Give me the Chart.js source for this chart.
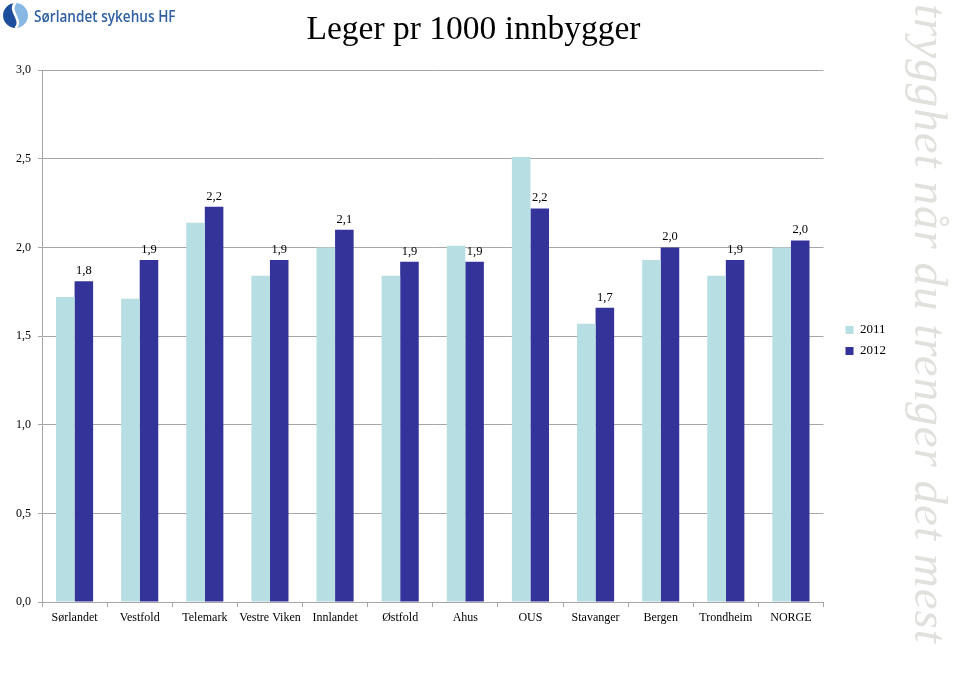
<!DOCTYPE html>
<html>
<head>
<meta charset="utf-8">
<script src="https://cdn.jsdelivr.net/npm/chart.js@4.4.1/dist/chart.umd.min.js"></script>
<style>
  html, body { margin: 0; padding: 0; background: #fff; }
  #wrap { position: relative; width: 960px; height: 681px; overflow: hidden; }
  #logo { position: absolute; left: 2px; top: 2px; display: flex; align-items: center; }
  #logo span {
    font-family: "Open Sans", sans-serif; font-size: 17px; font-weight: 600; color: #2f5fa3;
    margin-left: 5px; display: inline-block; transform: scaleX(0.8); transform-origin: left center;
    white-space: nowrap;
  }
  #slogan {
    position: absolute; left: 960px; top: 4px; transform: rotate(90deg); transform-origin: 0 0;
    font-family: "Liberation Serif", serif; font-style: italic; font-size: 47px; line-height: 58px;
    color: #e0e0dc; white-space: nowrap; letter-spacing: 1px;
  }
</style>
</head>
<body>
<div id="wrap">
  <canvas id="chart"></canvas>
  <div id="logo">
    <svg width="27" height="27" viewBox="0 0 26 26">
      <path d="M13,1 A12,12 0 0 0 13,25 C21,18 5,8 13,1 Z" fill="#1d4f9c"/>
      <path d="M13,1 A12,12 0 0 1 13,25 C21,18 5,8 13,1 Z" fill="#86b8e3"/>
      <path d="M13,1 C5,8 21,18 13,25" fill="none" stroke="#fff" stroke-width="2.5"/>
    </svg>
    <span>Sørlandet sykehus HF</span>
  </div>
  <div id="slogan">trygghet når du trenger det mest</div>
</div>
<script>
Chart.defaults.font.family = '"Liberation Serif", "Times New Roman", serif';
Chart.defaults.color = '#000';

const categories = ['Sørlandet', 'Vestfold', 'Telemark', 'Vestre Viken', 'Innlandet', 'Østfold',
  'Ahus', 'OUS', 'Stavanger', 'Bergen', 'Trondheim', 'NORGE'];
const values2011 = [1.72, 1.71, 2.14, 1.84, 2.00, 1.84, 2.01, 2.51, 1.57, 1.93, 1.84, 2.00];
const values2012 = [1.81, 1.93, 2.23, 1.93, 2.10, 1.92, 1.92, 2.22, 1.66, 2.00, 1.93, 2.04];
const yTicks = [0, 0.5, 1.0, 1.5, 2.0, 2.5, 3.0];

const fmt = v => v.toFixed(1).replace('.', ',');
const GRID = '#a6a6a6';

// value labels above the 2012 bars
const barLabels = {
  id: 'barLabels',
  afterDatasetsDraw(chart) {
    const { ctx } = chart;
    const meta = chart.getDatasetMeta(1);
    ctx.save();
    ctx.font = '12.5px "Liberation Serif", serif';
    ctx.fillStyle = '#000';
    ctx.textAlign = 'center';
    ctx.textBaseline = 'alphabetic';
    meta.data.forEach((bar, i) => {
      ctx.fillText(fmt(values2012[i]), bar.x, bar.y - 7);
    });
    ctx.restore();
  },
};

new Chart(document.getElementById('chart'), {
  type: 'bar',
  data: {
    labels: categories,
    datasets: [
      { label: '2011', data: values2011, backgroundColor: '#b7dfe3' },
      { label: '2012', data: values2012, backgroundColor: '#333399' },
    ],
  },
  options: {
    responsive: true,
    maintainAspectRatio: false,
    animation: false,
    datasets: { bar: { barPercentage: 1.0, categoryPercentage: 0.57 } },
    layout: { padding: { left: 0, right: 13, top: 0, bottom: 0 } },
    plugins: {
      title: {
        display: true,
        text: 'Leger pr 1000 innbygger',
        color: '#000',
        font: { size: 33.5, weight: 'normal' },
        padding: { top: 10, bottom: 20 },
      },
      legend: {
        position: 'right',
        labels: {
          boxWidth: 8,
          boxHeight: 8,
          padding: 8,
          color: '#000',
          font: { size: 13, lineHeight: 1.15 },
        },
      },
      tooltip: { enabled: false },
    },
    scales: {
      x: {
        grid: { display: true, drawOnChartArea: false, drawTicks: true, tickLength: 5, offset: true, color: GRID },
        border: { color: GRID },
        ticks: { font: { size: 12 }, padding: 4, maxRotation: 0, autoSkip: false },
        afterFit: s => { s.height = 79; },
      },
      y: {
        min: 0,
        max: 3,
        afterBuildTicks: s => { s.ticks = yTicks.map(v => ({ value: v })); },
        grid: { color: GRID, tickLength: 4 },
        border: { color: GRID },
        ticks: { font: { size: 12 }, padding: 7, callback: v => fmt(v) },
        afterFit: s => { s.width = 42; },
      },
      gap: {
        type: 'linear', position: 'right', weight: 500,
        grid: { display: false }, border: { display: false }, ticks: { display: false },
        afterFit: s => { s.width = 14; },
      },
      pad: {
        type: 'linear', position: 'right', weight: 2000,
        grid: { display: false }, border: { display: false }, ticks: { display: false },
        afterFit: s => { s.width = 51; },
      },
    },
  },
  plugins: [barLabels],
});
</script>
</body>
</html>
